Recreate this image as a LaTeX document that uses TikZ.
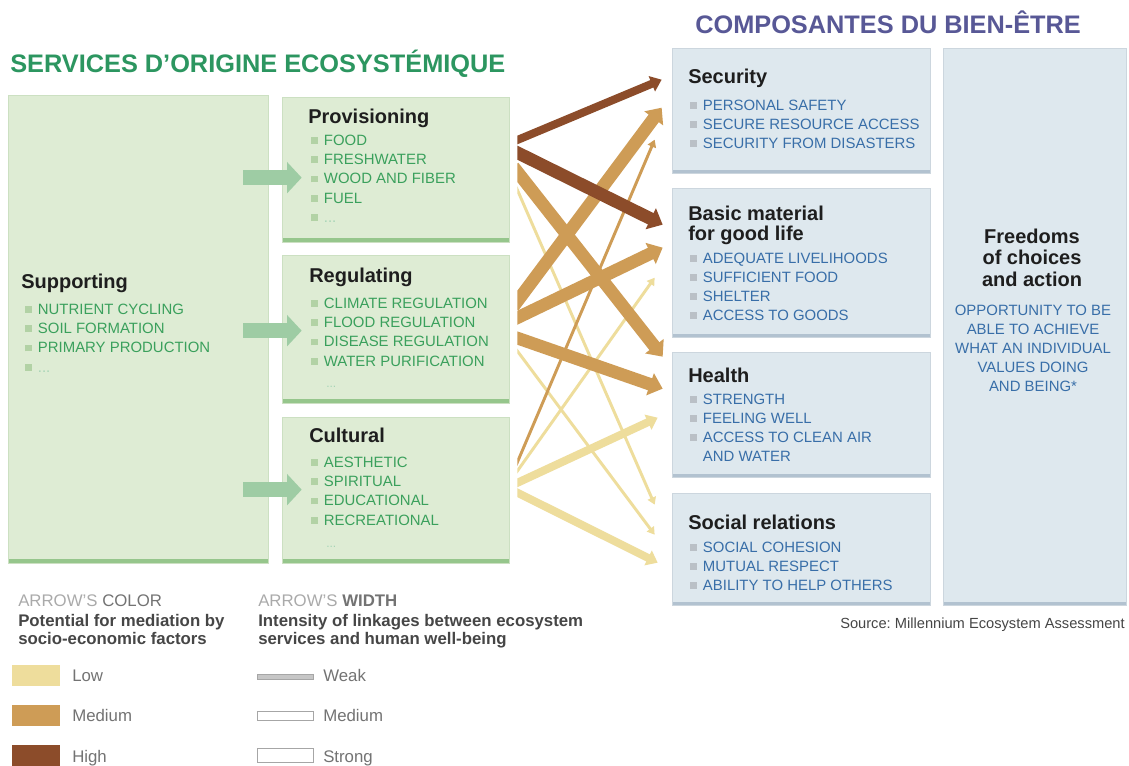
\documentclass[tikz,border=0pt]{standalone}
\usepackage{fontspec}
\setmainfont{Liberation Sans}
\usetikzlibrary{arrows.meta,calc,fit}
\frenchspacing

\definecolor{gfill}{RGB}{222,236,212}
\definecolor{gborder}{RGB}{204,224,194}
\definecolor{gedge}{RGB}{150,198,140}
\definecolor{gtext}{RGB}{58,160,92}
\definecolor{gtitle}{RGB}{44,150,96}
\definecolor{gbul}{RGB}{178,210,165}
\definecolor{gflow}{RGB}{158,204,164}
\definecolor{bfill}{RGB}{222,232,238}
\definecolor{bborder}{RGB}{204,214,222}
\definecolor{bedge}{RGB}{178,194,208}
\definecolor{btext}{RGB}{56,110,168}
\definecolor{btitle}{RGB}{88,88,150}
\definecolor{bbul}{RGB}{186,192,198}
\definecolor{lowc}{RGB}{238,221,156}
\definecolor{medc}{RGB}{206,156,86}
\definecolor{highc}{RGB}{140,76,42}
\definecolor{headc}{RGB}{30,30,30}
\definecolor{legc}{RGB}{70,70,70}
\definecolor{legl}{RGB}{170,170,170}
\definecolor{legm}{RGB}{115,115,115}

\newcommand{\gb}{\textcolor{gbul}{\rule[1pt]{5pt}{5pt}}\hspace{4.5pt}}
\newcommand{\bb}{\textcolor{bbul}{\rule[1pt]{5pt}{5pt}}\hspace{4.5pt}}

\begin{document}
\begin{tikzpicture}[x=0.75pt,y=0.75pt,yscale=-1,xscale=1,
    gbox/.style={draw=gborder, fill=gfill, inner sep=0pt, line width=0.5pt,
      path picture={\draw[gedge, line width=5.5pt] (path picture bounding box.south west) -- (path picture bounding box.south east);}},
    bbox/.style={draw=bborder, fill=bfill, inner sep=0pt, line width=0.5pt,
      path picture={\draw[bedge, line width=5pt] (path picture bounding box.south west) -- (path picture bounding box.south east);}},
    boxhead/.style={font=\fontsize{15}{15}\selectfont\bfseries, text=headc, inner sep=0pt},
    glist/.style={font=\fontsize{11.2}{14.5}\selectfont, text=gtext, inner sep=0pt, align=left, anchor=north west},
    blist/.style={font=\fontsize{11.2}{14.3}\selectfont, text=btext, inner sep=0pt, align=left, anchor=north west},
    gdots/.style={font=\fontsize{9}{9}\selectfont, text=gtext!45, inner sep=0pt, anchor=base west},
    greenflow/.style={draw=gflow, line width=11.25pt, -{Triangle[length=11pt,width=23pt]}},
    strongw/.style={line width=9.5pt, -{Triangle[length=10pt,width=17pt]}},
    mediumw/.style={line width=6pt, -{Triangle[length=8pt,width=12pt]}},
    weakw/.style={line width=2.2pt, -{Triangle[length=5.5pt,width=6.5pt]}},
    legtext/.style={font=\fontsize{12.6}{13.5}\selectfont, inner sep=0pt, anchor=base west}]
    \path[fill=white, use as bounding box] (0,0) rectangle (1129,765);

    % boxes
    \node[gbox, fit={(8,95) (268,563)}] (supp) {};
    \node[gbox, fit={(282,97) (509,242)}] (prov) {};
    \node[gbox, fit={(282,255) (509,403)}] (regu) {};
    \node[gbox, fit={(282,417) (509,563)}] (cult) {};
    \node[bbox, fit={(672,48) (930,173)}] (secu) {};
    \node[bbox, fit={(672,188) (930,337)}] (basic) {};
    \node[bbox, fit={(672,352) (930,477)}] (health) {};
    \node[bbox, fit={(672,493) (930,605)}] (social) {};
    \node[bbox, fit={(943,48) (1126,605)}] (freed) {};

    % supporting -> services
    \draw[greenflow] ($(supp.north east)+(-25,83)$) -- ($(prov.north west)+(20,81)$);
    \draw[greenflow] ($(supp.north east)+(-25,236)$) -- ($(regu.north west)+(20,76)$);
    \draw[greenflow] ($(supp.north east)+(-25,395)$) -- ($(cult.north west)+(20,73)$);

    % services -> well-being
    \begin{scope}
    \clip ($(prov.north east)+(8,-60)$) rectangle (social.south west);
    \draw[lowc, weakw] ($(prov.north east)+(4,84)$) -- ($(social.north west)+(-17,12)$);
    \draw[lowc, weakw] ($(regu.north east)+(4,91)$) -- ($(social.north west)+(-17,42)$);
    \draw[lowc, weakw] ($(cult.north east)+(4,60)$) -- ($(basic.north west)+(-17,90)$);
    \draw[lowc, mediumw] ($(cult.north east)+(4,68)$) -- ($(health.north west)+(-14,66)$);
    \draw[lowc, mediumw] ($(cult.north east)+(4,74)$) -- ($(social.north west)+(-14,70)$);
    \draw[medc, weakw] ($(cult.north east)+(4,55)$) -- ($(secu.north west)+(-17,92)$);
    \draw[medc, strongw] ($(regu.north east)+(4,52)$) -- ($(secu.north west)+(-10,60)$);
    \draw[medc, strongw] ($(regu.north east)+(4,65)$) -- ($(basic.north west)+(-9,60)$);
    \draw[medc, strongw] ($(regu.north east)+(4,82)$) -- ($(health.north west)+(-9,37)$);
    \draw[medc, strongw] ($(prov.north east)+(4,70)$) -- ($(health.north west)+(-9,5)$);
    \draw[highc, mediumw] ($(prov.north east)+(4,45)$) -- ($(secu.north west)+(-10,32)$);
    \draw[highc, strongw] ($(prov.north east)+(4,54)$) -- ($(basic.north west)+(-9,37)$);
    \end{scope}

    % titles
    \node[anchor=base west, inner sep=0pt, font=\fontsize{19}{19}\selectfont\bfseries, text=gtitle] (stitle) at (10,72) {SERVICES D’ORIGINE ECOSYSTÉMIQUE};
    \node[anchor=base west, inner sep=0pt, font=\fontsize{19}{19}\selectfont\bfseries, text=btitle] (ctitle) at (695,33) {COMPOSANTES DU BIEN-ÊTRE};

    % services
    \node[boxhead, anchor=base west] (supphead) at (21,288) {Supporting};
    \node[glist] (supplist) at (25,303.3) {\gb NUTRIENT CYCLING\\\gb SOIL FORMATION\\\gb PRIMARY PRODUCTION\\\gb {\color{gtext!45}...}};
    \node[boxhead, anchor=base west] (provhead) at (308,123) {Provisioning};
    \node[glist] (provlist) at (311,134.3) {\gb FOOD\\\gb FRESHWATER\\\gb WOOD AND FIBER\\\gb FUEL\\\gb {\color{gtext!45}...}};
    \node[boxhead, anchor=base west] (reguhead) at (309,282) {Regulating};
    \node[glist] (regulist) at (311,297.3) {\gb CLIMATE REGULATION\\\gb FLOOD REGULATION\\\gb DISEASE REGULATION\\\gb WATER PURIFICATION};
    \node[gdots] (regudots) at (326,387) {...};
    \node[boxhead, anchor=base west] (culthead) at (309,442) {Cultural};
    \node[glist] (cultlist) at (311,456.3) {\gb AESTHETIC\\\gb SPIRITUAL\\\gb EDUCATIONAL\\\gb RECREATIONAL};
    \node[gdots] (cultdots) at (326,547) {...};

    % well-being
    \node[boxhead, anchor=base west] (secuhead) at (688,83) {Security};
    \node[blist] (seculist) at (690,99.3) {\bb PERSONAL SAFETY\\\bb SECURE RESOURCE ACCESS\\\bb SECURITY FROM DISASTERS};
    \node[boxhead, anchor=north west, align=left] (basichead) at (688,205.7) {Basic material\\for good life};
    \node[blist] (basiclist) at (690,252.3) {\bb ADEQUATE LIVELIHOODS\\\bb SUFFICIENT FOOD\\\bb SHELTER\\\bb ACCESS TO GOODS};
    \node[boxhead, anchor=base west] (healthhead) at (688,382) {Health};
    \node[blist] (healthlist) at (690,393.3) {\bb STRENGTH\\\bb FEELING WELL\\\bb ACCESS TO CLEAN AIR\\\hspace*{9.5pt}AND WATER};
    \node[boxhead, anchor=base west] (socialhead) at (688,529) {Social relations};
    \node[blist] (sociallist) at (690,541.3) {\bb SOCIAL COHESION\\\bb MUTUAL RESPECT\\\bb ABILITY TO HELP OTHERS};
    \node[boxhead, anchor=north, align=center, font=\fontsize{15}{16.1}\selectfont\bfseries] (freedhead) at (1032,228.7) {Freedoms\\of choices\\and action};
    \node[blist, anchor=north, align=center] (freedlist) at (1033,304.3) {OPPORTUNITY TO BE\\ABLE TO ACHIEVE\\WHAT AN INDIVIDUAL\\VALUES DOING\\AND BEING*};
    \node[anchor=base east, inner sep=0pt, font=\fontsize{11}{11}\selectfont, text=legc] (source) at (1125,628) {Source: Millennium Ecosystem Assessment};

    % legend
    \node[legtext, text=legl] (colhead) at (18,606) {ARROW’S {\color{legm}COLOR}};
    \node[legtext, anchor=north west, align=left, font=\fontsize{12.6}{13.5}\selectfont\bfseries, text=legc] (colnote) at (18,614) {Potential for mediation by\\socio-economic factors};
    \fill[lowc] (12,665) rectangle (60,686);
    \fill[medc] (12,705) rectangle (60,726);
    \fill[highc] (12,745) rectangle (60,766);
    \node[legtext, text=legm] (lowlab) at (72,681) {Low};
    \node[legtext, text=legm] (medlab) at (72,721) {Medium};
    \node[legtext, text=legm] (highlab) at (72,762) {High};
    \node[legtext, text=legl] (widhead) at (258,606) {ARROW’S {\color{legm}\bfseries WIDTH}};
    \node[legtext, anchor=north west, align=left, font=\fontsize{12.6}{13.5}\selectfont\bfseries, text=legc] (widnote) at (258,614) {Intensity of linkages between ecosystem\\services and human well-being};
    \draw[gray!70, fill=gray!45] (257,674) rectangle (313,679);
    \draw[gray!70, fill=white] (257,711) rectangle (313,720);
    \draw[gray!70, fill=white] (257,748) rectangle (313,762);
    \node[legtext, text=legm] (weaklab) at (323,681) {Weak};
    \node[legtext, text=legm] (medwlab) at (323,721) {Medium};
    \node[legtext, text=legm] (stronglab) at (323,762) {Strong};
\end{tikzpicture}
\end{document}
